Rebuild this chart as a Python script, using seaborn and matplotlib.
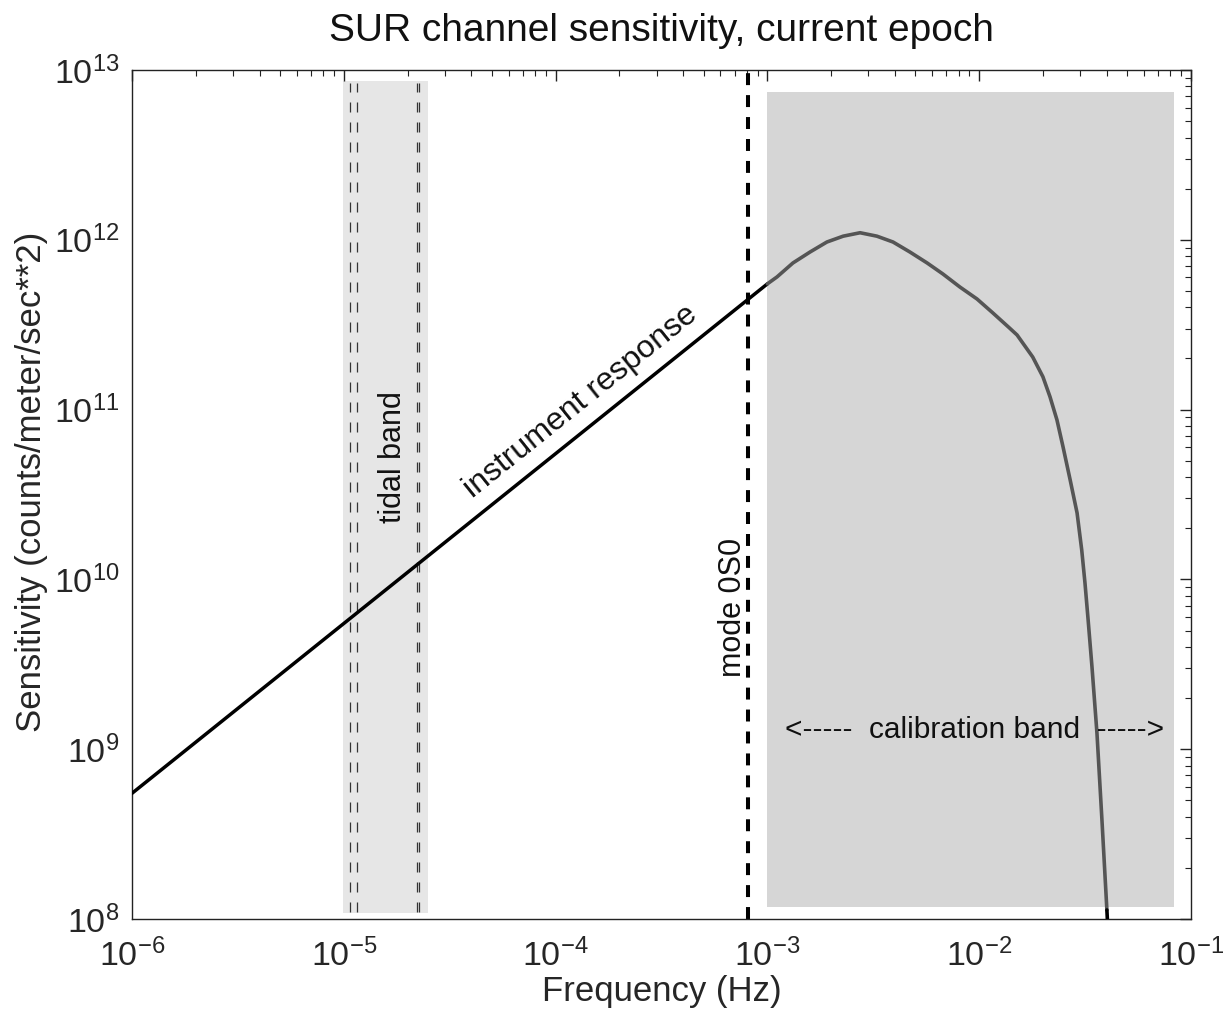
import numpy as np
import pandas as pd
import matplotlib
matplotlib.use("Agg")
import matplotlib.pyplot as plt
import seaborn as sns
from matplotlib.ticker import LogLocator, FuncFormatter, NullFormatter

# ---------------- data ----------------
# straight instrument-response section (black)
resp_freq = [1.0e-6, 1.0e-3]
resp_sens = [5.5e8, 5.5e11]

# calibration-band section (gray)
cal_freq = [1.0e-3, 1.11e-3, 1.32e-3, 1.59e-3, 1.91e-3, 2.28e-3, 2.74e-3,
            3.29e-3, 3.92e-3, 4.71e-3, 5.68e-3, 6.74e-3, 8.11e-3, 9.77e-3,
            1.16e-2, 1.38e-2, 1.51e-2, 1.79e-2, 2.00e-2, 2.16e-2, 2.33e-2,
            2.49e-2, 2.69e-2, 2.90e-2, 3.05e-2, 3.16e-2, 3.27e-2, 3.41e-2,
            3.60e-2, 3.80e-2, 4.01e-2]
cal_sens = [5.5e11, 6.04e11, 7.3e11, 8.47e11, 9.7e11, 1.05e12, 1.10e12,
            1.05e12, 9.7e11, 8.47e11, 7.3e11, 6.29e11, 5.27e11, 4.48e11,
            3.71e11, 3.05e11, 2.75e11, 2.04e11, 1.56e11, 1.19e11, 8.69e10,
            6.02e10, 3.85e10, 2.46e10, 1.49e10, 9.52e9, 5.77e9, 3.05e9,
            1.24e9, 3.83e8, 1.13e8]

# final black tail
tail_freq = [4.01e-2, 4.03e-2]
tail_sens = [1.13e8, 1.0e8]

tidal_band = [9.9e-6, 2.5e-5]
tidal_band_y = [1.08e8, 8.6e12]
tidal_lines = [1.07e-5, 1.15e-5, 2.21e-5, 2.27e-5]
mode_0S0 = 8.14e-4
cal_band = [1.0e-3, 8.3e-2]
cal_band_y = [1.17e8, 7.4e12]

title = "SUR channel sensitivity, current epoch"
xlabel = "Frequency (Hz)"
ylabel = "Sensitivity (counts/meter/sec**2)"

# ---------------- style ----------------
sns.set_style("white")
plt.rcParams['font.family'] = ['Liberation Sans', 'DejaVu Sans']
plt.rcParams['mathtext.fontset'] = 'custom'
plt.rcParams['mathtext.rm'] = 'Liberation Sans'
plt.rcParams['mathtext.it'] = 'Liberation Sans:italic'
plt.rcParams['mathtext.bf'] = 'Liberation Sans:bold'
plt.rcParams['lines.scale_dashes'] = False
plt.rcParams['text.color'] = '#111111'

fig = plt.figure(figsize=(12.26, 10.11), dpi=100)
ax = fig.add_axes([0.1077, 0.0910, 0.8637, 0.8398])
ax.set_xscale('log')
ax.set_yscale('log')
ax.set_xlim(1e-6, 1e-1)
ax.set_ylim(1e8, 1e13)

# bands
ax.fill_between(tidal_band, tidal_band_y[0], tidal_band_y[1], color='#e6e6e6',
                lw=0, zorder=0)
ax.fill_between(cal_band, cal_band_y[0], cal_band_y[1], color='#d6d6d6',
                lw=0, zorder=0)

for f in tidal_lines:
    ax.plot([f, f], [tidal_band_y[0] * 1.02, tidal_band_y[1] * 0.97],
            color='#333333', lw=0.9, linestyle=(0, (7.2, 7.2)), zorder=1)

ax.axvline(mode_0S0, color='black', lw=2.9, linestyle=(0, (8.6, 7.2)), zorder=2)

df_resp = pd.DataFrame({'f': resp_freq, 's': resp_sens})
df_cal = pd.DataFrame({'f': cal_freq, 's': cal_sens})
df_tail = pd.DataFrame({'f': tail_freq, 's': tail_sens})
sns.lineplot(data=df_resp, x='f', y='s', ax=ax, color='black', lw=2.5,
             sort=False, estimator=None, zorder=3)
sns.lineplot(data=df_cal, x='f', y='s', ax=ax, color='#555555', lw=2.6,
             sort=False, estimator=None, zorder=3)
sns.lineplot(data=df_tail, x='f', y='s', ax=ax, color='black', lw=2.6,
             sort=False, estimator=None, zorder=3)

# annotations
ax.text(1.32e-4, 1.11e11, "instrument response", rotation=38.7, fontsize=23,
        ha='center', va='center', rotation_mode='anchor')
ax.text(1.71e-5, 5.25e10, "tidal band", rotation=90, fontsize=22,
        ha='center', va='center')
ax.text(6.89e-4, 6.87e9, "mode 0S0", rotation=90, fontsize=22,
        ha='center', va='center')
ax.text(9.55e-3, 1.3e9, "<-----  calibration band  ----->", fontsize=21.5,
        ha='center', va='center')

# ticks
def fmt(v, pos):
    e = int(round(np.log10(v)))
    return r'$10^{%d}$' % e

for axis in (ax.xaxis, ax.yaxis):
    axis.set_major_locator(LogLocator(base=10, numticks=20))
    axis.set_minor_locator(LogLocator(base=10, subs=np.arange(2, 10), numticks=50))
    axis.set_major_formatter(FuncFormatter(fmt))
    axis.set_minor_formatter(NullFormatter())

ax.tick_params(which='both', direction='in', top=True, right=True,
               color='#222222')
ax.tick_params(which='major', length=8, width=1.0, labelsize=24.5)
ax.tick_params(which='minor', length=4.5, width=0.8)
ax.tick_params(axis='x', which='major', pad=14)
ax.tick_params(axis='y', which='major', pad=9)

for sp in ax.spines.values():
    sp.set_color('#222222')
    sp.set_linewidth(1.0)

ax.set_title(title, fontsize=28, pad=21)
ax.set_xlabel(xlabel, fontsize=25)
ax.set_ylabel(ylabel, fontsize=25)
ax.xaxis.set_label_coords(0.5, -0.066)
ax.yaxis.set_label_coords(-0.079, 0.515)

fig.savefig('out.png', dpi=100)
